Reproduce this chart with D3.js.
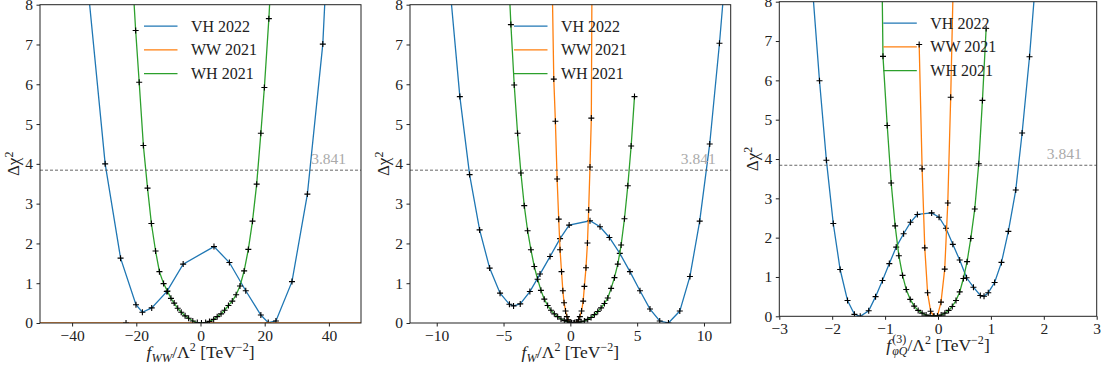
<!DOCTYPE html>
<html>
<head>
<meta charset="utf-8">
<script src="https://cdn.jsdelivr.net/npm/d3@7"></script>
<style>
  body { margin: 0; background: #fff; }
  svg { display: block; font-family: "Liberation Serif", "DejaVu Serif", serif; }
  svg text { font-family: "Liberation Serif", "DejaVu Serif", serif; }
</style>
</head>
<body>
<div id="chart"></div>
<script>
// Données : [x, delta chi2]

// panneau 1 : f_WW
const vhFww = [[-35.5, 8.8], [-29.7, 4.0], [-24.9, 1.63], [-20.1, 0.46], [-18.1, 0.27], [-15.2, 0.38], [-10.5, 0.79], [-5.4, 1.48], [4.2, 1.92], [9.0, 1.52], [14.1, 0.81], [18.8, 0.20], [21.1, 0.01], [23.5, 0.05], [28.5, 1.04], [33.3, 3.24], [38.1, 7.01], [40.5, 11.0]];
const wwFww = [[-100, 0], [-23.2, 0], [100, 0]];
const whFww = [[-21.4, 9.0], [-20.2, 7.35], [-19.1, 6.05], [-17.8, 4.46], [-16.5, 3.39], [-15.3, 2.50], [-14.0, 1.81], [-12.8, 1.29], [-11.5, 0.99], [-10.3, 0.80], [-9.2, 0.62], [-8.2, 0.50], [-7.1, 0.37], [-6.0, 0.27], [-4.8, 0.18], [-3.7, 0.12], [-2.4, 0.05], [-1.0, 0.01], [0.3, 0.0], [1.6, 0.01], [2.8, 0.04], [4.1, 0.09], [5.2, 0.16], [6.4, 0.23], [7.5, 0.32], [8.7, 0.44], [9.9, 0.55], [11.1, 0.71], [12.3, 0.93], [13.6, 1.31], [14.9, 1.85], [16.2, 2.56], [17.5, 3.49], [18.8, 4.77], [19.9, 5.92], [21.3, 7.65], [22.5, 9.5]];

// panneau 2 : f_W
const vhFw = [[-9.0, 8.4], [-8.27, 5.69], [-7.54, 3.73], [-6.79, 2.34], [-6.04, 1.38], [-5.26, 0.75], [-4.56, 0.47], [-4.25, 0.43], [-3.75, 0.48], [-3.03, 0.79], [-2.27, 1.23], [-1.52, 1.67], [-0.77, 2.12], [-0.09, 2.46], [1.47, 2.57], [2.22, 2.42], [2.92, 2.15], [3.70, 1.75], [4.46, 1.29], [5.21, 0.81], [5.96, 0.35], [6.69, 0.05], [7.34, 0.0], [8.19, 0.30], [8.95, 1.17], [9.68, 2.56], [10.43, 4.50], [11.16, 7.03], [11.9, 10.0]];
const wwFw = [[-1.36, 8.6], [-1.24, 6.13], [-1.12, 5.07], [-0.99, 3.62], [-0.87, 2.61], [-0.77, 1.84], [-0.66, 1.29], [-0.56, 0.81], [-0.47, 0.51], [-0.36, 0.30], [-0.26, 0.16], [-0.17, 0.08], [-0.04, 0.01], [0.08, 0.0], [0.21, 0.0], [0.34, 0.01], [0.47, 0.02], [0.62, 0.08], [0.71, 0.16], [0.84, 0.30], [0.96, 0.55], [1.05, 0.92], [1.17, 1.39], [1.28, 2.01], [1.37, 2.84], [1.47, 3.92], [1.57, 5.15], [1.63, 9.5]];
const whFw = [[-4.7, 9.3], [-4.45, 7.5], [-4.2, 5.98], [-3.95, 4.77], [-3.7, 3.77], [-3.45, 2.95], [-3.2, 2.32], [-2.95, 1.84], [-2.7, 1.42], [-2.45, 1.10], [-2.2, 0.82], [-1.95, 0.60], [-1.7, 0.44], [-1.45, 0.32], [-1.2, 0.23], [-0.95, 0.16], [-0.7, 0.10], [-0.45, 0.06], [-0.2, 0.03], [0.05, 0.01], [0.3, 0.0], [0.55, 0.01], [0.8, 0.03], [1.05, 0.05], [1.3, 0.09], [1.55, 0.14], [1.8, 0.21], [2.05, 0.29], [2.3, 0.38], [2.55, 0.49], [2.8, 0.63], [3.05, 0.87], [3.3, 1.14], [3.55, 1.48], [3.8, 1.96], [4.05, 2.62], [4.3, 3.45], [4.55, 4.45], [4.8, 5.69]];

// panneau 3 : f_phiQ^(3)
const vhFphiq = [[-2.37, 8.3], [-2.24, 5.99], [-2.11, 3.97], [-1.98, 2.36], [-1.85, 1.19], [-1.71, 0.40], [-1.58, 0.05], [-1.47, 0.0], [-1.31, 0.14], [-1.18, 0.50], [-1.05, 0.91], [-0.92, 1.34], [-0.79, 1.76], [-0.65, 2.10], [-0.52, 2.39], [-0.39, 2.59], [-0.12, 2.63], [0.02, 2.52], [0.15, 2.24], [0.28, 1.83], [0.41, 1.43], [0.54, 0.98], [0.67, 0.74], [0.80, 0.53], [0.87, 0.51], [0.95, 0.60], [1.07, 0.86], [1.20, 1.37], [1.33, 2.16], [1.47, 3.21], [1.59, 4.66], [1.73, 6.60], [1.86, 8.8]];
const wwFphiq = [[-0.356, 6.91], [-0.30, 3.75], [-0.25, 1.74], [-0.197, 0.60], [-0.14, 0.13], [-0.075, 0.0], [-0.01, 0.01], [0.057, 0.36], [0.127, 1.20], [0.185, 2.88], [0.24, 5.57], [0.30, 9.2]];
const whFphiq = [[-1.08, 11.0], [-1.04, 6.61], [-0.96, 4.85], [-0.885, 3.39], [-0.81, 2.30], [-0.74, 1.54], [-0.67, 1.04], [-0.60, 0.68], [-0.525, 0.43], [-0.45, 0.26], [-0.375, 0.15], [-0.30, 0.08], [-0.225, 0.03], [-0.15, 0.01], [-0.08, 0.0], [-0.01, 0.01], [0.06, 0.03], [0.13, 0.08], [0.20, 0.15], [0.27, 0.25], [0.34, 0.40], [0.41, 0.62], [0.48, 0.96], [0.55, 1.39], [0.62, 1.98], [0.695, 2.73], [0.77, 3.88], [0.84, 5.49], [0.91, 7.32]];

// légende, ticks, seuil
const seriesNames = ["VH 2022", "WW 2021", "WH 2021"];
const seriesColors = ["#1f77b4", "#ff7f0e", "#2ca02c"];
const yTicks = [0, 1, 2, 3, 4, 5, 6, 7, 8];
const xTicks1 = [-40, -20, 0, 20, 40];
const xTicks2 = [-10, -5, 0, 5, 10];
const xTicks3 = [-3, -2, -1, 0, 1, 2, 3];
const threshold = 3.841;

//---------------------------------------------------------------------------------------

// Création du canevas SVG

const width = 1105;
const height = 374;

const svg = d3.select("#chart")
  .append("svg")
  .attr("width", width)
  .attr("height", height);

const panels = [
  { id: 1, left: 40, top: 4.7, right: 361, bottom: 323, xDomain: [-50, 50], xTicks: xTicks1, series: [vhFww, wwFww, whFww], label: "ww" },
  { id: 2, left: 410, top: 4.7, right: 730.7, bottom: 323, xDomain: [-12, 12], xTicks: xTicks2, series: [vhFw, wwFw, whFw], label: "w" },
  { id: 3, left: 779.3, top: 1.7, right: 1096.7, bottom: 316.3, xDomain: [-3, 3], xTicks: xTicks3, series: [vhFphiq, wwFphiq, whFphiq], label: "phiq" }
];

const fmt = d3.format("~g");

panels.forEach(drawPanel);

function drawPanel(p) {
  const w = p.right - p.left;
  const h = p.bottom - p.top;

  const g = svg.append("g").attr("transform", `translate(${p.left},${p.top})`);

  // échelles
  const scaleX = d3.scaleLinear().domain(p.xDomain).range([0, w]);
  const scaleY = d3.scaleLinear().domain([0, 8]).range([h, 0]);

  // clip pour les courbes qui sortent du cadre
  g.append("clipPath")
    .attr("id", `clip${p.id}`)
    .append("rect")
    .attr("width", w)
    .attr("height", h);

  const plot = g.append("g").attr("clip-path", `url(#clip${p.id})`);

  const line = d3.line()
    .x(d => scaleX(d[0]))
    .y(d => scaleY(d[1]));

  // courbes + marqueurs "+"
  p.series.forEach((data, i) => {
    plot.append("path")
      .datum(data)
      .attr("d", line)
      .attr("fill", "none")
      .attr("stroke", seriesColors[i])
      .attr("stroke-width", 1.3);

    plot.append("g")
      .selectAll("path")
      .data(data)
      .join("path")
      .attr("transform", d => `translate(${scaleX(d[0])},${scaleY(d[1])})`)
      .attr("d", "M-3,0H3M0,-3V3")
      .attr("stroke", "#000")
      .attr("stroke-width", 1.1);
  });

  // ligne du seuil
  plot.append("line")
    .attr("x1", 0)
    .attr("x2", w)
    .attr("y1", scaleY(threshold))
    .attr("y2", scaleY(threshold))
    .attr("stroke", "#555")
    .attr("stroke-width", 0.9)
    .attr("stroke-dasharray", "3,2");

  g.append("text")
    .attr("x", w - 15)
    .attr("y", scaleY(threshold) - 6)
    .attr("text-anchor", "end")
    .attr("font-size", 15.5)
    .attr("fill", "#aaa")
    .text(threshold);

  // axes
  const xAxis = g.append("g")
    .attr("transform", `translate(0,${h})`)
    .call(d3.axisBottom(scaleX).tickValues(p.xTicks).tickFormat(fmt).tickSize(3.5).tickPadding(3.5).tickSizeOuter(0));
  const yAxis = g.append("g")
    .call(d3.axisLeft(scaleY).tickValues(yTicks).tickFormat(fmt).tickSize(3.5).tickPadding(3.5).tickSizeOuter(0));

  [xAxis, yAxis].forEach(a => {
    a.attr("font-family", null);
    a.select(".domain").remove();
    a.selectAll("text")
      .style("font-family", "'Liberation Serif', serif")
      .attr("font-size", 15.5)
      .attr("fill", "#222");
    a.selectAll("line").attr("stroke", "#222");
  });

  // cadre
  g.append("rect")
    .attr("width", w)
    .attr("height", h)
    .attr("fill", "none")
    .attr("stroke", "#222")
    .attr("stroke-width", 1);

  // légende
  const rowsY = [21.5, 45.2, 68.9];
  seriesNames.forEach((name, i) => {
    g.append("line")
      .attr("x1", 104)
      .attr("x2", 137.5)
      .attr("y1", rowsY[i])
      .attr("y2", rowsY[i])
      .attr("stroke", seriesColors[i])
      .attr("stroke-width", 1.3);
    g.append("text")
      .attr("x", 151)
      .attr("y", rowsY[i])
      .attr("dy", "0.35em")
      .attr("font-size", 16)
      .attr("fill", "#222")
      .text(name);
  });

  // titre axe Y
  g.append("text")
    .attr("transform", `translate(-21,${h / 2}) rotate(-90)`)
    .attr("text-anchor", "middle")
    .attr("font-size", 17)
    .attr("fill", "#222")
    .call(t => {
      t.append("tspan").text("Δχ");
      t.append("tspan").attr("font-size", 12).attr("dy", -6).text("2");
    });

  // titre axe X
  const xl = g.append("text")
    .attr("x", w / 2)
    .attr("y", h + 35)
    .attr("text-anchor", "middle")
    .attr("font-size", 17.5)
    .attr("fill", "#222");

  xl.append("tspan").attr("font-style", "italic").text("f");
  if (p.label === "ww") {
    xl.append("tspan").attr("font-style", "italic").attr("font-size", 12.5).attr("dy", 4).text("WW");
    xl.append("tspan").attr("dy", -4).text("/Λ");
  } else if (p.label === "w") {
    xl.append("tspan").attr("font-style", "italic").attr("font-size", 12.5).attr("dy", 4).text("W");
    xl.append("tspan").attr("dy", -4).text("/Λ");
  } else {
    xl.append("tspan").attr("font-size", 12).attr("dx", 1).attr("dy", -8).text("(3)");
    xl.append("tspan").attr("font-style", "italic").attr("font-size", 12).attr("dx", -14).attr("dy", 12).text("φQ");
    xl.append("tspan").attr("dy", -4).text("/Λ");
  }
  xl.append("tspan").attr("font-size", 12).attr("dy", -7).text("2");
  xl.append("tspan").attr("dy", 7).text(" [TeV");
  xl.append("tspan").attr("font-size", 12).attr("dy", -7).text("−2");
  xl.append("tspan").attr("dy", 7).text("]");
}
</script>
</body>
</html>
